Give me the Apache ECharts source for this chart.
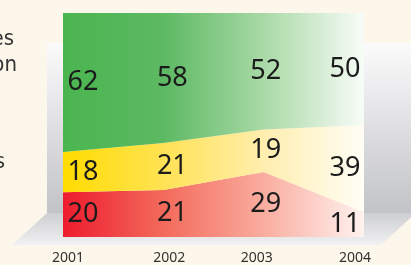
<!DOCTYPE html>
<html>
<head>
<meta charset="utf-8">
<script src="https://cdn.jsdelivr.net/npm/echarts@6/dist/echarts.min.js"></script>
<style>
  html, body { margin: 0; padding: 0; background: #fdf6ea; }
  #chart { width: 411px; height: 265px; }
</style>
</head>
<body>
<div id="chart"></div>
<script>
  const years = ['2001', '2002', '2003', '2004']
  const red = [20, 21, 29, 11]
  const yellow = [18, 21, 19, 39]
  const green = [62, 58, 52, 50]

  // label nudges so the numbers sit inside the plot
  const labelShift = [20, 9, 2, -19]
  const yearPad = [[0, 0, 0, 10], [0, 0, 0, 12], [0, 14, 0, 0], [0, 18, 0, 0]]

  function grad(stops) {
    return new echarts.graphic.LinearGradient(0, 0, 1, 0,
      stops.map((c, i) => ({ offset: i / (stops.length - 1), color: c })))
  }

  // label points at the middle of each band
  const labelPts = []
  years.forEach((y, j) => {
    let base = 0
    ;[red, yellow, green].forEach(s => {
      labelPts.push({
        value: [j, base + s[j] / 2, s[j]],
        label: { offset: [labelShift[j], 0] },
      })
      base += s[j]
    })
  })

  const wallGrad = new echarts.graphic.LinearGradient(0, 0, 0, 1, [
    { offset: 0, color: '#fbfbfc' },
    { offset: 1, color: '#c2c3c6' },
  ])
  const floorGrad = new echarts.graphic.LinearGradient(0, 0, 0, 1, [
    { offset: 0, color: '#cdced1' },
    { offset: 1, color: '#f1f1f3' },
  ])
  const sideFont = '22px "Liberation Sans Narrow", "DejaVu Sans Condensed", sans-serif'

  let chart = echarts.init(document.getElementById('chart'))
  chart.setOption({
    animation: false,
    backgroundColor: '#fdf6ea',
    grid: { left: 63, right: 47, top: 13, bottom: 28 },
    graphic: [
      { type: 'rect', z: -10, shape: { x: 47, y: 43, width: 20, height: 170 }, style: { fill: wallGrad } },
      { type: 'rect', z: -10, shape: { x: 360, y: 43, width: 60, height: 170 }, style: { fill: wallGrad } },
      {
        type: 'polygon', z: -10,
        shape: { points: [[47, 213], [416, 213], [381, 245], [12, 245]] },
        style: { fill: floorGrad },
      },
      { type: 'text', x: 14, y: 50, style: { text: 'es', textAlign: 'right', textVerticalAlign: 'bottom', font: sideFont, fill: '#333' } },
      { type: 'text', x: 17, y: 76, style: { text: 'on', textAlign: 'right', textVerticalAlign: 'bottom', font: sideFont, fill: '#333' } },
      { type: 'text', x: 5, y: 173, style: { text: 's', textAlign: 'right', textVerticalAlign: 'bottom', font: sideFont, fill: '#333' } },
    ],
    xAxis: {
      type: 'category',
      boundaryGap: false,
      data: years.map((y, i) => ({ value: y, textStyle: { padding: yearPad[i] } })),
      axisLine: { show: false },
      axisTick: { show: false },
      axisLabel: { margin: 14, color: '#333', fontSize: 14, fontFamily: 'Noto Sans' },
    },
    yAxis: { type: 'value', min: 0, max: 100, show: false },
    series: [
      {
        type: 'line', stack: 'a', data: red, symbol: 'none', lineStyle: { width: 0 },
        areaStyle: { opacity: 1, color: grad(['#ed1c2e', '#f36a5b', '#f9ad9f', '#fff2f0']) },
      },
      {
        type: 'line', stack: 'a', data: yellow, symbol: 'none', lineStyle: { width: 0 },
        areaStyle: { opacity: 1, color: grad(['#ffdc00', '#ffe254', '#ffeeae', '#fffdf6']) },
      },
      {
        type: 'line', stack: 'a', data: green, symbol: 'none', lineStyle: { width: 0 },
        areaStyle: { opacity: 1, color: grad(['#4ab54f', '#5db963', '#a9d9a6', '#f8fcf8']) },
      },
      {
        type: 'scatter', data: labelPts, symbolSize: 0.01, itemStyle: { color: '#000', opacity: 1 },
        label: {
          show: true, position: 'inside', color: '#1b1b1b', fontSize: 27, fontFamily: 'Noto Sans',
          textBorderWidth: 0, opacity: 1,
          formatter: p => p.value[2],
        },
        z: 5,
      },
    ],
  })
  window.onresize = function () {
    chart.resize()
  }
</script>
</body>
</html>
